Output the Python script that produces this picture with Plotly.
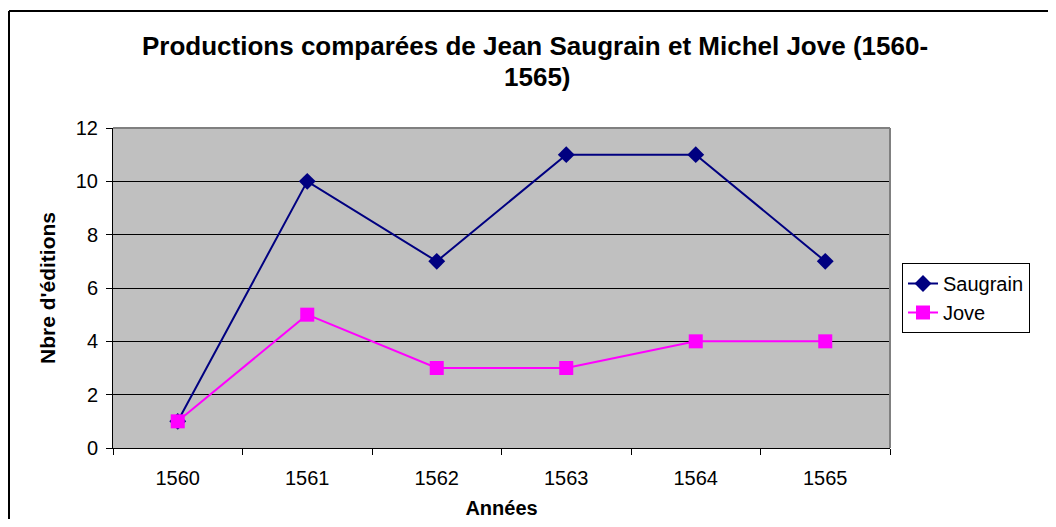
import plotly.graph_objects as go

# data
years = ["1560", "1561", "1562", "1563", "1564", "1565"]
saugrain = [1, 10, 7, 11, 11, 7]
jove = [1, 5, 3, 3, 4, 4]

# page is drawn with an 8px body margin, so work in page pixels and shift
OFF = 8
W, H = 1056 - 2 * OFF, 527 - 2 * OFF
L, T = 113 - OFF, 128 - OFF
PR, PB = 890 - OFF, 448 - OFF
R, B = W - PR, H - PB
pw, ph = PR - L, PB - T

def px_x(p):
    return (p - OFF - L) / pw

def px_y(p):
    return (PB - (p - OFF)) / ph

fig = go.Figure()
fig.add_trace(go.Scatter(x=years, y=saugrain, name="Saugrain", mode="lines+markers",
                         line=dict(color="#000080", width=2),
                         marker=dict(symbol="diamond", size=13, color="#000080")))
fig.add_trace(go.Scatter(x=years, y=jove, name="Jove", mode="lines+markers",
                         line=dict(color="#FF00FF", width=2),
                         marker=dict(symbol="square", size=14, color="#FF00FF")))

arial = "Arial, Liberation Sans, sans-serif"

fig.update_layout(
    width=W, height=H,
    margin=dict(l=L, r=R, t=T, b=B),
    paper_bgcolor="white", plot_bgcolor="#C0C0C0",
    font=dict(family=arial, color="black", size=20),
    showlegend=True,
    legend=dict(x=px_x(902), y=px_y(263), xanchor="left", yanchor="top",
                bgcolor="white", bordercolor="black", borderwidth=1,
                font=dict(size=20), tracegroupgap=0, itemwidth=30),
    xaxis=dict(type="category", tickson="boundaries", ticks="outside", ticklen=6,
               tickcolor="black", showline=True, linecolor="black", linewidth=1,
               showgrid=False, tickfont=dict(size=20), range=[-0.5, 5.5],
               ticklabelstandoff=12, automargin=False,
               title=dict(text="<b>Années</b>", font=dict(size=20), standoff=22)),
    yaxis=dict(range=[0, 12], dtick=2, ticks="outside", ticklen=6, tickcolor="black",
               showline=True, linecolor="black", linewidth=1,
               showgrid=True, gridcolor="black", gridwidth=1, zeroline=False,
               tickfont=dict(size=20), ticklabelstandoff=4, automargin=False,
               title=dict(text="<b>Nbre d'éditions</b>", font=dict(size=21), standoff=14)),
    annotations=[
        dict(text="<b>Productions comparées de Jean Saugrain et Michel Jove (1560-</b>",
             x=px_x(535), y=px_y(46), xref="paper", yref="paper",
             xanchor="center", yanchor="middle",
             showarrow=False, font=dict(size=26)),
        dict(text="<b>1565)</b>",
             x=px_x(537), y=px_y(77), xref="paper", yref="paper",
             xanchor="center", yanchor="middle",
             showarrow=False, font=dict(size=26)),
    ],
    shapes=[
        dict(type="line", xref="paper", yref="paper", x0=0, x1=1, y0=1, y1=1,
             line=dict(color="#808080", width=2)),
        dict(type="line", xref="paper", yref="paper", x0=1, x1=1, y0=0, y1=1,
             line=dict(color="#808080", width=2)),
        # outer frame: only left and top edges are inside the picture
        dict(type="line", xref="paper", yref="paper",
             x0=px_x(9), x1=px_x(9), y0=px_y(11), y1=px_y(530),
             line=dict(color="black", width=2)),
        dict(type="line", xref="paper", yref="paper",
             x0=px_x(9), x1=px_x(1060), y0=px_y(11), y1=px_y(11),
             line=dict(color="black", width=2)),
    ],
)

fig.write_html("out.html")
